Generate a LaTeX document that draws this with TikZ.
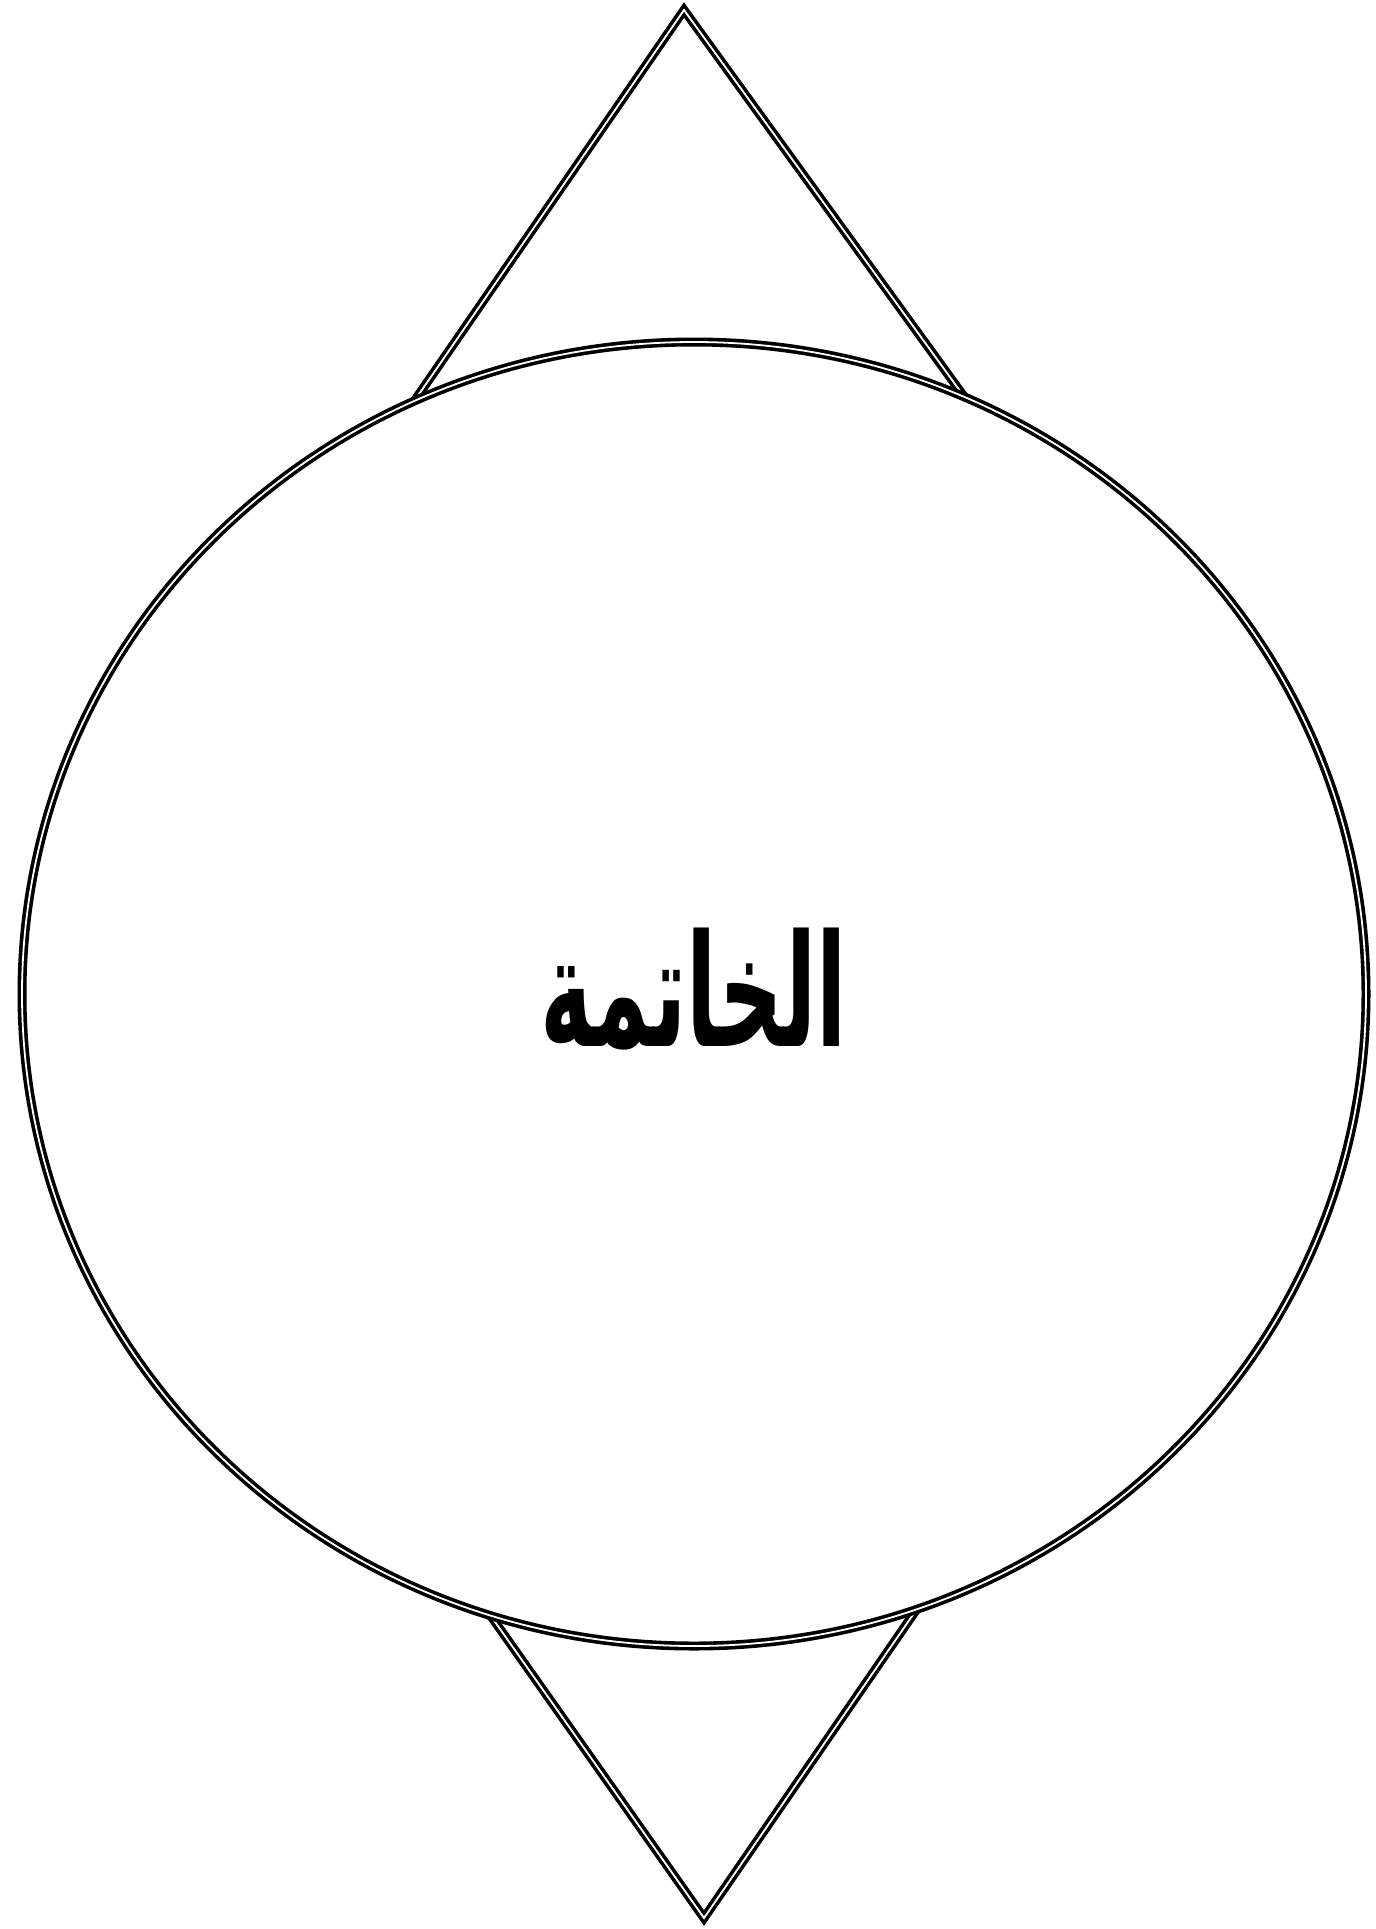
\documentclass[tikz,border=0pt]{standalone}
\usepackage{fontspec}
\newfontfamily\arabicfont[Script=Arabic]{DejaVu Sans}
\TeXXeTstate=1
\usepackage{graphicx}
\usetikzlibrary{shapes.geometric}

\begin{document}
\begin{tikzpicture}[
  x=0.5pt, y=-0.5pt,
  dbl/.style={draw=black, line width=1.8pt, double=white, double distance=0.9pt},
  tri/.style={dbl, fill=white, line join=miter},
  oval/.style={ellipse, dbl, fill=white, inner sep=0pt,
               minimum width=672pt, minimum height=652pt,
               font=\arabicfont\bfseries\fontsize{52}{60}\selectfont},
]
  \useasboundingbox (0,0) rectangle (1376,1929);

  % top triangle
  \coordinate (tApex) at (684,10);
  \coordinate (tLeft) at (346,500);
  \coordinate (tRight) at (1039,500);
  \draw[tri] (tLeft) -- (tApex) -- (tRight) -- cycle;

  % bottom triangle
  \coordinate (bApex) at (704,1918);
  \coordinate (bLeft) at (409,1500);
  \coordinate (bRight) at (992,1500);
  \draw[tri] (bLeft) -- (bApex) -- (bRight) -- cycle;

  % main ellipse
  \node[oval] (khatima) at (694,994)
    {\raisebox{7pt}{\scalebox{0.85}[1.5]{\beginR الخاتمة\endR}}};
\end{tikzpicture}
\end{document}
